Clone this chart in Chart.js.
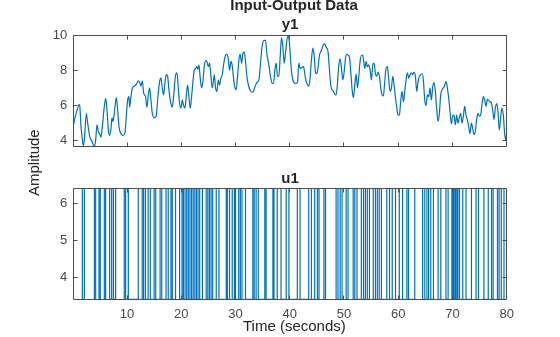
<!DOCTYPE html>
<html><head><meta charset="utf-8">
<script src="https://cdn.jsdelivr.net/npm/chart.js@4.4.1/dist/chart.umd.min.js"></script>
<style>
html,body{margin:0;padding:0;background:#fff;}
#wrap{position:relative;width:560px;height:337px;overflow:hidden;font-family:"Liberation Sans",Arial,Helvetica,sans-serif;background:#fff;}
canvas{position:absolute;left:0;top:0;}
.lbl{position:absolute;white-space:nowrap;color:#262626;font-size:15px;line-height:15px;font-family:"Liberation Sans",Arial,Helvetica,sans-serif;}
</style></head><body>
<div id="wrap">
<canvas id="cy" width="560" height="337"></canvas>
<canvas id="cu" width="560" height="337"></canvas>
<div class="lbl" style="left:294px;top:-3.2px;transform:translateX(-50%);font-weight:bold;">Input-Output Data</div>
<div class="lbl" style="left:26px;top:196px;transform-origin:0 0;transform:rotate(-90deg);font-weight:normal;">Amplitude</div>
<div class="lbl" style="left:243px;top:318px;font-weight:normal;">Time (seconds)</div>
</div>
<script>
// ---- data ----
const xTicks = [10, 20, 30, 40, 50, 60, 70, 80];
const y1Ticks = [4, 6, 8, 10];
const u1Ticks = [4, 5, 6];

const y1Time = [0.1,0.48,0.91,1.15,1.28,1.52,1.77,1.95,2.14,2.5,2.75,3.12,3.55,3.98,4.22,4.47,4.72,4.96,5.21,5.45,5.82,6.07,6.31,6.56,6.8,7.05,7.23,7.42,7.6,7.79,8.03,8.28,8.52,8.89,9.26,9.63,9.87,10.12,10.36,10.49,10.73,10.98,11.35,11.71,12.08,12.33,12.57,12.82,13.07,13.43,13.68,13.93,14.17,14.42,14.66,15.03,15.4,15.64,16.01,16.26,16.5,16.75,17.0,17.24,17.49,17.73,18.1,18.35,18.59,18.96,19.21,19.45,19.7,19.94,20.19,20.43,20.68,20.92,21.17,21.42,21.66,21.91,22.15,22.4,22.64,22.89,23.07,23.26,23.5,23.75,23.99,24.24,24.49,24.73,24.98,25.22,25.47,25.71,25.96,26.08,26.33,26.57,26.82,27.06,27.31,27.56,27.8,28.17,28.42,28.66,28.91,29.15,29.4,29.64,29.89,30.13,30.38,30.63,30.87,31.12,31.36,31.61,31.85,32.1,32.47,32.84,33.2,33.57,33.94,34.31,34.56,34.92,35.29,35.54,35.78,36.15,36.4,36.77,37.01,37.26,37.5,37.75,37.99,38.24,38.48,38.73,38.98,39.22,39.47,39.71,39.96,40.2,40.45,40.69,41.06,41.43,41.68,41.92,42.54,42.84,43.15,43.52,43.77,44.01,44.26,44.5,44.75,44.99,45.24,45.48,45.73,45.98,46.22,46.47,46.71,46.96,47.08,47.33,47.57,47.82,48.06,48.31,48.55,48.8,49.05,49.29,49.54,49.78,50.03,50.27,50.52,50.76,51.01,51.26,51.5,51.75,51.99,52.24,52.48,52.73,52.97,53.22,53.47,53.59,53.83,54.08,54.32,54.57,54.82,55.06,55.31,55.55,55.8,56.04,56.29,56.54,56.78,57.03,57.27,57.52,57.76,58.01,58.26,58.5,58.75,58.99,59.24,59.48,59.73,59.97,60.22,60.47,60.71,60.96,61.2,61.45,61.69,61.94,62.18,62.43,62.68,62.92,63.17,63.41,63.66,63.9,64.15,64.39,64.64,64.89,65.13,65.38,65.62,65.87,66.11,66.36,66.6,66.85,67.1,67.34,67.59,67.83,68.08,68.32,68.57,68.81,69.06,69.31,69.55,69.8,70.04,70.29,70.53,70.78,71.02,71.27,71.52,71.76,72.01,72.25,72.5,72.74,72.99,73.23,73.48,73.73,73.97,74.22,74.46,74.71,74.95,75.2,75.44,75.69,75.94,76.18,76.43,76.67,76.92,77.16,77.41,77.66,77.9,78.15,78.39,78.64,78.88,79.13,79.38,79.62,79.87,80];
const y1Value = [4.85,5.4,5.85,6.05,6.0,4.8,4.06,3.73,4.05,5.56,5.0,4.25,3.96,3.66,4.05,4.9,4.5,4.4,4.2,4.8,5.94,6.4,5.75,4.6,4.3,4.7,5.3,5.1,5.4,5.94,6.45,5.75,4.8,4.4,4.3,4.45,5.4,6.3,6.5,5.9,6.5,6.98,7.1,7.2,7.4,7.3,7.1,7.4,6.7,6.5,5.9,6.6,7.0,6.3,5.56,5.3,5.4,6.3,7.35,7.55,7.0,6.6,7.3,7.75,7.65,6.9,6.1,5.9,6.5,7.75,7.85,7.0,6.1,5.85,6.3,6.0,5.85,6.5,7.15,6.5,5.85,6.5,7.35,8.0,8.1,8.2,8.05,8.3,7.55,7.0,7.35,8.2,8.55,8.5,8.2,8.4,7.65,7.0,7.45,7.75,7.0,6.8,7.45,7.15,7.55,7.75,8.3,8.85,8.9,8.65,8.0,8.5,8.25,7.55,7.0,6.9,7.65,8.6,8.9,8.4,8.95,9.05,8.5,7.65,7.05,6.8,6.75,7.05,7.3,7.45,8.2,9.4,9.7,9.7,8.95,8.3,7.75,7.25,7.25,8.0,8.4,7.65,7.65,8.75,9.85,9.35,8.4,8.95,9.7,10.0,9.5,8.4,7.65,7.35,7.25,7.3,8.4,8.1,8.2,7.65,7.25,7.1,7.65,8.6,9.25,8.85,7.9,7.8,8.2,8.85,9.05,9.25,9.45,9.5,9.3,9.2,9.0,8.0,7.15,6.9,6.8,6.65,6.6,7.25,8.3,8.65,8.1,7.45,7.9,8.65,8.9,8.85,8.75,7.9,6.9,6.45,7.15,7.8,7.0,7.65,8.5,8.85,8.85,8.6,8.1,8.5,8.2,8.3,8.0,7.45,8.3,8.4,7.8,7.65,7.9,7.65,7.0,6.6,6.55,7.35,8.1,8.2,7.45,6.8,7.0,7.65,7.15,6.5,5.9,5.45,5.45,6.3,6.8,6.2,6.8,7.45,7.85,7.55,7.75,7.85,7.75,7.9,7.65,6.8,7.35,7.65,7.75,7.8,7.45,6.3,6.0,6.6,6.5,7.0,6.3,7.05,7.3,6.8,5.75,5.1,5.55,6.6,6.9,7.0,7.15,7.35,7.0,6.4,5.65,4.95,5.4,5.45,4.9,5.45,5.0,5.3,5.55,5.0,5.4,5.95,5.45,5.2,4.8,4.4,5.0,4.7,4.35,4.55,5.2,5.55,5.4,5.45,6.05,6.5,6.3,5.95,6.35,6.3,6.2,6.15,5.75,5.2,5.85,6.1,5.65,4.6,5.3,5.85,5.45,4.4,4.05,4.6];

// u1: binary input, switching between two levels at the read switch times
const u1High = 6.4;
const u1Low = 3.4;
const u1Start = 0.1;
const u1End = 80;
const u1SwitchTimes = [1.77,2.14,3.98,4.22,4.84,5.08,5.82,6.06,6.8,7.17,7.5,7.9,9.5,9.75,10.24,12.08,12.8,13.06,13.4,13.9,14.3,15.0,15.3,16.1,16.4,17.2,17.6,18.1,18.35,18.95,19.7,20.15,20.4,20.7,21.0,21.3,21.6,21.9,22.2,22.5,22.8,23.1,23.4,23.9,24.6,24.9,25.2,25.5,25.8,26.45,26.95,28.3,28.5,28.9,29.4,29.8,30.0,30.6,30.9,31.2,31.85,33.2,33.45,33.8,34.2,35.4,35.65,36.9,37.1,37.7,38.4,39.35,39.85,41.4,41.9,43.5,44.0,44.6,45.1,45.4,46.3,46.6,48.55,48.9,49.3,49.65,50.4,50.75,51.7,52.0,52.4,53.2,53.6,53.95,54.3,54.7,55.4,55.8,56.15,56.5,56.9,57.9,58.4,58.9,59.5,60.2,60.8,61.6,61.9,63.05,64.5,64.9,65.3,65.6,66.0,66.5,67.35,67.85,68.8,69.2,69.9,70.1,70.3,70.55,70.8,71.0,71.3,71.9,72.5,73.5,74.35,74.8,75.8,76.6,77.2,77.5,78.3,78.6,79.0,79.5];

// ---- build library data ----
const y1Data = y1Time.map((t, i) => ({x: t, y: y1Value[i]}));
const u1Data = [{x: u1Start, y: u1High}];
let lvl = u1High;
u1SwitchTimes.forEach(t => { lvl = (lvl === u1High) ? u1Low : u1High; u1Data.push({x: t, y: lvl}); });
u1Data.push({x: u1End, y: lvl});

const FONT = '"Liberation Sans", Arial, Helvetica, sans-serif';
const LINE = '#0072BD';
const AX = '#4d4d4d';
const TICKTXT = '#4a4a4a';
const DARK = '#262626';

const boxPlugin = {
  id: 'matlabBox',
  afterDraw(chart, args, opts) {
    const {ctx, chartArea: a, scales} = chart;
    const L = Math.floor(a.left) + 0.5, R = Math.floor(a.right) + 0.5;
    const T = Math.floor(a.top) + 0.5, B = Math.floor(a.bottom) + 0.5;
    const tl = 4;
    ctx.save();
    ctx.strokeStyle = AX;
    ctx.lineWidth = 1;
    ctx.beginPath();
    ctx.rect(L, T, R - L, B - T);
    opts.xTicks.forEach(v => {
      const p = Math.floor(scales.x.getPixelForValue(v)) + 0.5;
      ctx.moveTo(p, B); ctx.lineTo(p, B - tl);
      ctx.moveTo(p, T); ctx.lineTo(p, T + tl);
    });
    opts.yTicks.forEach(v => {
      const p = Math.floor(scales.y.getPixelForValue(v)) + 0.5;
      ctx.moveTo(L, p); ctx.lineTo(L + tl, p);
      ctx.moveTo(R, p); ctx.lineTo(R - tl, p);
    });
    ctx.stroke();
    ctx.restore();
  }
};

function yScale(min, max, ticksArr) {
  return {
    type: 'linear', min: min, max: max,
    afterFit(s) { s.width = 53.3; },
    afterBuildTicks(s) { s.ticks = ticksArr.map(v => ({value: v})); },
    grid: {display: false, drawTicks: false},
    border: {display: false},
    ticks: {padding: 6, color: TICKTXT, font: {family: FONT, size: 13}}
  };
}

new Chart(document.getElementById('cy'), {
  type: 'line',
  data: {datasets: [{data: y1Data, borderColor: LINE, borderWidth: 1.2, pointRadius: 0, cubicInterpolationMode: 'monotone', fill: false}]},
  options: {
    responsive: false, animation: false, devicePixelRatio: 1, events: [],
    layout: {padding: {top: 0, left: 20, right: 53.3, bottom: 190.3}},
    plugins: {
      legend: {display: false}, tooltip: {enabled: false},
      title: {display: true, text: 'y1', fullSize: false, color: DARK, font: {family: FONT, size: 15, weight: 'bold'}, padding: {top: 16, bottom: 1}},
      matlabBox: {xTicks: xTicks, yTicks: y1Ticks}
    },
    scales: {
      x: {type: 'linear', min: 0.1, max: 80, display: false},
      y: yScale(3.66, 10, y1Ticks)
    }
  },
  plugins: [boxPlugin]
});

new Chart(document.getElementById('cu'), {
  type: 'line',
  data: {datasets: [{data: u1Data, borderColor: LINE, borderWidth: 1.2, pointRadius: 0, stepped: true, fill: false}]},
  options: {
    responsive: false, animation: false, devicePixelRatio: 1, events: [],
    layout: {padding: {top: 160, left: 20, right: 53.3, bottom: 1.5}},
    plugins: {
      legend: {display: false}, tooltip: {enabled: false},
      title: {display: true, text: 'u1', fullSize: false, color: DARK, font: {family: FONT, size: 15, weight: 'bold'}, padding: {top: 10.3, bottom: 0.2}},
      matlabBox: {xTicks: xTicks, yTicks: u1Ticks}
    },
    scales: {
      x: {
        type: 'linear', min: 0.1, max: 80,
        afterFit(s) { s.height = 36.2; },
        afterBuildTicks(s) { s.ticks = xTicks.map(v => ({value: v})); },
        grid: {display: false, drawTicks: false},
        border: {display: false},
        ticks: {padding: 7, maxRotation: 0, autoSkip: false, color: TICKTXT, font: {family: FONT, size: 13}}
      },
      y: yScale(3.4, 6.4, u1Ticks)
    }
  },
  plugins: [boxPlugin]
});
</script>
</body></html>
